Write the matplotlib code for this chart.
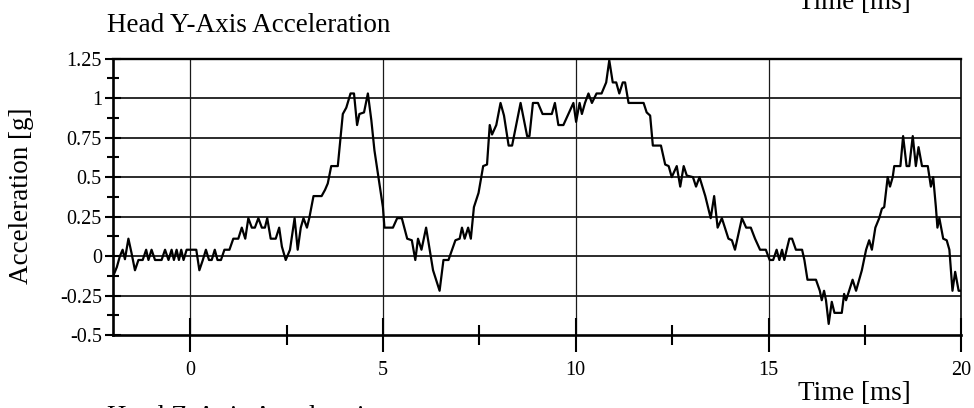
import matplotlib
matplotlib.use("Agg")
import numpy as np
from matplotlib import pyplot as plt
from matplotlib.ticker import MultipleLocator

# time [ms] and head Y-axis acceleration [g]
time_ms = [
    -2.00, -1.90, -1.82, -1.75, -1.69, -1.60, -1.52, -1.43, -1.34, -1.23,
    -1.14, -1.08, -1.00, -0.91, -0.74, -0.65, -0.56, -0.48, -0.42, -0.35,
    -0.29, -0.23, -0.17, -0.09, 0.16, 0.24, 0.33, 0.41, 0.49, 0.56,
    0.64, 0.71, 0.80, 0.89, 1.02, 1.12, 1.25, 1.34, 1.43, 1.51,
    1.60, 1.68, 1.77, 1.86, 1.94, 2.00, 2.09, 2.22, 2.31, 2.38,
    2.48, 2.59, 2.71, 2.79, 2.87, 2.94, 3.03, 3.09, 3.20, 3.41,
    3.50, 3.57, 3.66, 3.83, 3.96, 4.05, 4.16, 4.25, 4.33, 4.39,
    4.51, 4.61, 4.70, 4.78, 4.91, 5.00, 5.04, 5.26, 5.37, 5.49,
    5.63, 5.75, 5.84, 5.91, 6.00, 6.12, 6.30, 6.47, 6.57, 6.70,
    6.88, 6.99, 7.05, 7.12, 7.21, 7.28, 7.36, 7.48, 7.60, 7.70,
    7.77, 7.83, 7.94, 8.05, 8.14, 8.26, 8.35, 8.57, 8.74, 8.80,
    8.89, 9.02, 9.14, 9.38, 9.46, 9.55, 9.68, 9.81, 9.94, 10.01,
    10.10, 10.16, 10.24, 10.33, 10.42, 10.54, 10.67, 10.79, 10.87, 10.96,
    11.05, 11.13, 11.22, 11.28, 11.37, 11.76, 11.84, 11.93, 12.00, 12.21,
    12.32, 12.41, 12.49, 12.62, 12.71, 12.80, 12.88, 13.04, 13.12, 13.21,
    13.36, 13.50, 13.59, 13.68, 13.79, 13.96, 14.05, 14.13, 14.31, 14.42,
    14.54, 14.65, 14.78, 14.93, 15.03, 15.12, 15.21, 15.28, 15.35, 15.41,
    15.47, 15.54, 15.61, 15.71, 15.87, 15.93, 16.01, 16.23, 16.33, 16.38,
    16.44, 16.49, 16.56, 16.64, 16.71, 16.90, 16.96, 17.01, 17.09, 17.18,
    17.27, 17.42, 17.53, 17.61, 17.68, 17.77, 17.87, 17.94, 18.00, 18.09,
    18.15, 18.22, 18.26, 18.42, 18.49, 18.58, 18.65, 18.74, 18.82, 18.89,
    18.98, 19.13, 19.21, 19.27, 19.34, 19.38, 19.43, 19.53, 19.62, 19.69,
    19.77, 19.84, 19.93, 20.00,
]
accel_g = [
    -0.13, -0.07, 0.00, 0.04, -0.02, 0.11, 0.02, -0.09, -0.025, -0.025,
    0.04, -0.025, 0.04, -0.025, -0.025, 0.04, -0.025, 0.04, -0.025, 0.04,
    -0.025, 0.04, -0.025, 0.04, 0.04, -0.09, -0.025, 0.04, -0.025, -0.025,
    0.04, -0.025, -0.025, 0.04, 0.04, 0.11, 0.11, 0.18, 0.11, 0.24,
    0.18, 0.18, 0.24, 0.18, 0.18, 0.24, 0.11, 0.11, 0.18, 0.06,
    -0.025, 0.04, 0.24, 0.04, 0.18, 0.24, 0.18, 0.24, 0.38, 0.38,
    0.42, 0.46, 0.57, 0.57, 0.90, 0.94, 1.03, 1.03, 0.83, 0.90,
    0.91, 1.03, 0.86, 0.67, 0.46, 0.31, 0.18, 0.18, 0.24, 0.24,
    0.11, 0.10, -0.025, 0.11, 0.04, 0.18, -0.09, -0.22, -0.025, -0.025,
    0.10, 0.11, 0.18, 0.11, 0.18, 0.11, 0.31, 0.40, 0.57, 0.58,
    0.83, 0.77, 0.83, 0.97, 0.89, 0.70, 0.70, 0.97, 0.76, 0.76,
    0.97, 0.97, 0.90, 0.90, 0.97, 0.83, 0.83, 0.90, 0.97, 0.85,
    0.97, 0.90, 0.97, 1.03, 0.97, 1.03, 1.03, 1.10, 1.24, 1.10,
    1.10, 1.03, 1.10, 1.10, 0.97, 0.97, 0.91, 0.89, 0.70, 0.70,
    0.58, 0.57, 0.50, 0.57, 0.44, 0.57, 0.51, 0.50, 0.44, 0.50,
    0.38, 0.24, 0.38, 0.18, 0.24, 0.11, 0.10, 0.04, 0.24, 0.18,
    0.18, 0.11, 0.04, 0.04, -0.025, -0.025, 0.04, -0.025, 0.04, -0.025,
    0.04, 0.11, 0.11, 0.04, 0.04, -0.025, -0.15, -0.15, -0.22, -0.28,
    -0.22, -0.28, -0.43, -0.29, -0.36, -0.36, -0.24, -0.28, -0.22, -0.15,
    -0.22, -0.09, 0.04, 0.10, 0.04, 0.18, 0.24, 0.30, 0.31, 0.50,
    0.44, 0.50, 0.57, 0.57, 0.76, 0.57, 0.57, 0.76, 0.57, 0.69,
    0.57, 0.57, 0.44, 0.50, 0.31, 0.18, 0.24, 0.11, 0.10, 0.04,
    -0.22, -0.10, -0.22, -0.22,
]

x_ticks = [0, 5, 10, 15, 20]
y_ticks = [-0.5, -0.25, 0, 0.25, 0.5, 0.75, 1, 1.25]
y_tick_labels = ["-0.5", "-0.25", "0", "0.25", "0.5", "0.75", "1", "1.25"]

plt.rcParams['font.family'] = ['Liberation Serif', 'DejaVu Serif']

fig = plt.figure(figsize=(9.74, 4.08), dpi=100)
ax = fig.add_axes([0.116, 0.179, 0.871, 0.677])

ax.plot(time_ms, accel_g, color='black', lw=1.6, zorder=3)

ax.set_xlim(-2, 20)
ax.set_ylim(-0.5, 1.25)
ax.set_xticks(x_ticks)
ax.set_xticklabels([str(t) for t in x_ticks])
ax.set_yticks(y_ticks)
ax.set_yticklabels(y_tick_labels)
ax.xaxis.set_minor_locator(MultipleLocator(2.5))
ax.yaxis.set_minor_locator(MultipleLocator(0.125))

for y in y_ticks[1:-1]:
    ax.axhline(y, color='#1a1a1a', lw=1.3, zorder=1)
for x in x_ticks[:-1]:
    ax.axvline(x, color='#1a1a1a', lw=0.9, zorder=1)

ax.tick_params(axis='x', which='major', direction='inout', length=25, width=1.5,
               labelsize=14.5, pad=6, top=False)
ax.tick_params(axis='x', which='minor', direction='inout', length=14, width=1.5, top=False)
ax.tick_params(axis='y', which='major', direction='inout', length=12, width=1.5,
               labelsize=14.5, pad=2, right=False)
ax.tick_params(axis='y', which='minor', direction='inout', length=9, width=1.5, right=False)

ax.spines['left'].set_linewidth(1.9)
ax.spines['bottom'].set_linewidth(1.9)
ax.spines['top'].set_linewidth(1.7)
ax.spines['right'].set_linewidth(1.2)

fig.text(0.11, 0.9216, "Head Y-Axis Acceleration", fontsize=19.5, va='baseline', ha='left')
fig.text(0.022, 0.52, "Acceleration [g]", fontsize=19.5, rotation=90, va='center', ha='center')
fig.text(0.819, 0.0196, "Time [ms]", fontsize=19.5, va='baseline', ha='left')
# pieces of the neighbouring panels cut by the scan
fig.text(0.819, 0.978, "Time [ms]", fontsize=19.5, va='baseline', ha='left')
fig.text(0.11, -0.039, "Head Z-Axis Acceleration", fontsize=19.5, va='baseline', ha='left')

assert len(time_ms) == len(accel_g)
fig.savefig("out.png", dpi=100)
